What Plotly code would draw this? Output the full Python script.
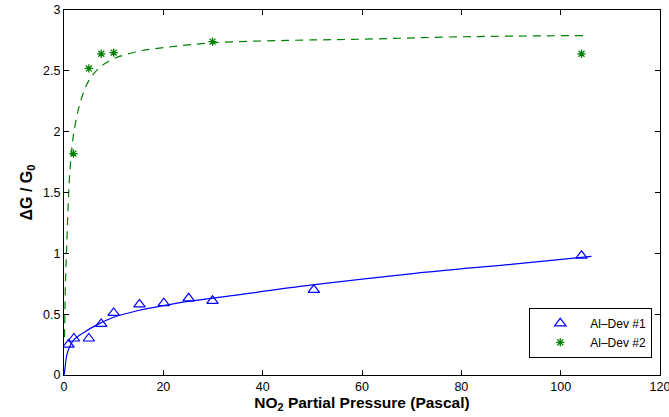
import plotly.graph_objects as go

# Measured data
dev1_x = [0.9, 2.0, 5.0, 7.5, 10.0, 15.2, 20.1, 25.1, 29.9, 50.3, 104.2]
dev1_y = [0.25, 0.30, 0.30, 0.42, 0.51, 0.58, 0.59, 0.63, 0.61, 0.70, 0.98]
dev2_x = [1.9, 5.0, 7.5, 10.0, 29.9, 104.2]
dev2_y = [1.82, 2.52, 2.64, 2.65, 2.74, 2.64]

# Fitted curves
fit1_x = [0, 0.13, 0.5, 1.0, 2.0, 4.0, 7.0, 10.0, 15.0, 20.0, 25.0, 33.4, 50.0, 70.7, 90.0, 106.2]
fit1_y = [0, 0.03, 0.15, 0.22, 0.29, 0.35, 0.42, 0.475, 0.53, 0.57, 0.605, 0.65, 0.74, 0.836, 0.91, 0.975]
fit2_x = [0.1, 0.2, 0.35, 0.5, 0.8, 1.1, 1.5, 2.0, 3.0, 4.0, 5.0, 7.0, 10.0, 15.0, 20.0, 30.0, 45.0, 60.0, 80.0, 104.6]
fit2_y = [0.31, 0.56, 0.85, 1.0, 1.35, 1.62, 1.83, 2.0, 2.2, 2.33, 2.42, 2.52, 2.6, 2.66, 2.69, 2.73, 2.75, 2.76, 2.78, 2.79]

BLUE = "rgb(0,0,255)"
GREEN = "rgb(0,128,0)"
FONT = "Liberation Sans, Arial, sans-serif"

fig = go.Figure()
fig.add_trace(go.Scatter(x=fit1_x, y=fit1_y, mode="lines", line=dict(color=BLUE, width=1.2),
                         line_shape="spline", showlegend=False, hoverinfo="skip"))
fig.add_trace(go.Scatter(x=fit2_x, y=fit2_y, mode="lines", line=dict(color=GREEN, width=1.2, dash="8px,6px"),
                         line_shape="spline", showlegend=False, hoverinfo="skip"))
fig.add_trace(go.Scatter(x=dev1_x, y=dev1_y, mode="markers", name="Al–Dev #1",
                         marker=dict(symbol="triangle-up-open", size=10, color=BLUE, line=dict(width=1.2, color=BLUE))))
fig.add_trace(go.Scatter(x=dev2_x, y=dev2_y, mode="markers", name="Al–Dev #2",
                         marker=dict(symbol="asterisk-open", size=7, color=GREEN, line=dict(width=1.3, color=GREEN))))

axis_common = dict(showgrid=False, zeroline=False, showline=True, linecolor="black", linewidth=1,
                   mirror="ticks", ticks="inside", ticklen=5, tickcolor="black",
                   ticklabeloverflow="allow", automargin=False,
                   tickfont=dict(family=FONT, size=12.5, color="black"))

fig.update_layout(
    width=669, height=417,
    margin=dict(l=64, r=9, t=10, b=42, autoexpand=False),
    paper_bgcolor="white", plot_bgcolor="white",
    font=dict(family=FONT, color="black"),
    xaxis=dict(range=[0, 120], dtick=20, tick0=0,
               title=dict(text="<b>NO<sub>2</sub> Partial Pressure (Pascal)</b>", font=dict(size=15.5, family=FONT), standoff=0),
               **axis_common),
    yaxis=dict(range=[0, 3], dtick=0.5, tick0=0,
               title=dict(text="<b>ΔG / G<sub>0</sub></b>", font=dict(size=16, family=FONT), standoff=6),
               **axis_common),
    legend=dict(x=0.987, y=0.047, xanchor="right", yanchor="bottom",
                bordercolor="black", borderwidth=1, bgcolor="white",
                font=dict(size=12, family=FONT), tracegroupgap=0, itemwidth=50),
    showlegend=True,
)

fig.write_html("out.html")
